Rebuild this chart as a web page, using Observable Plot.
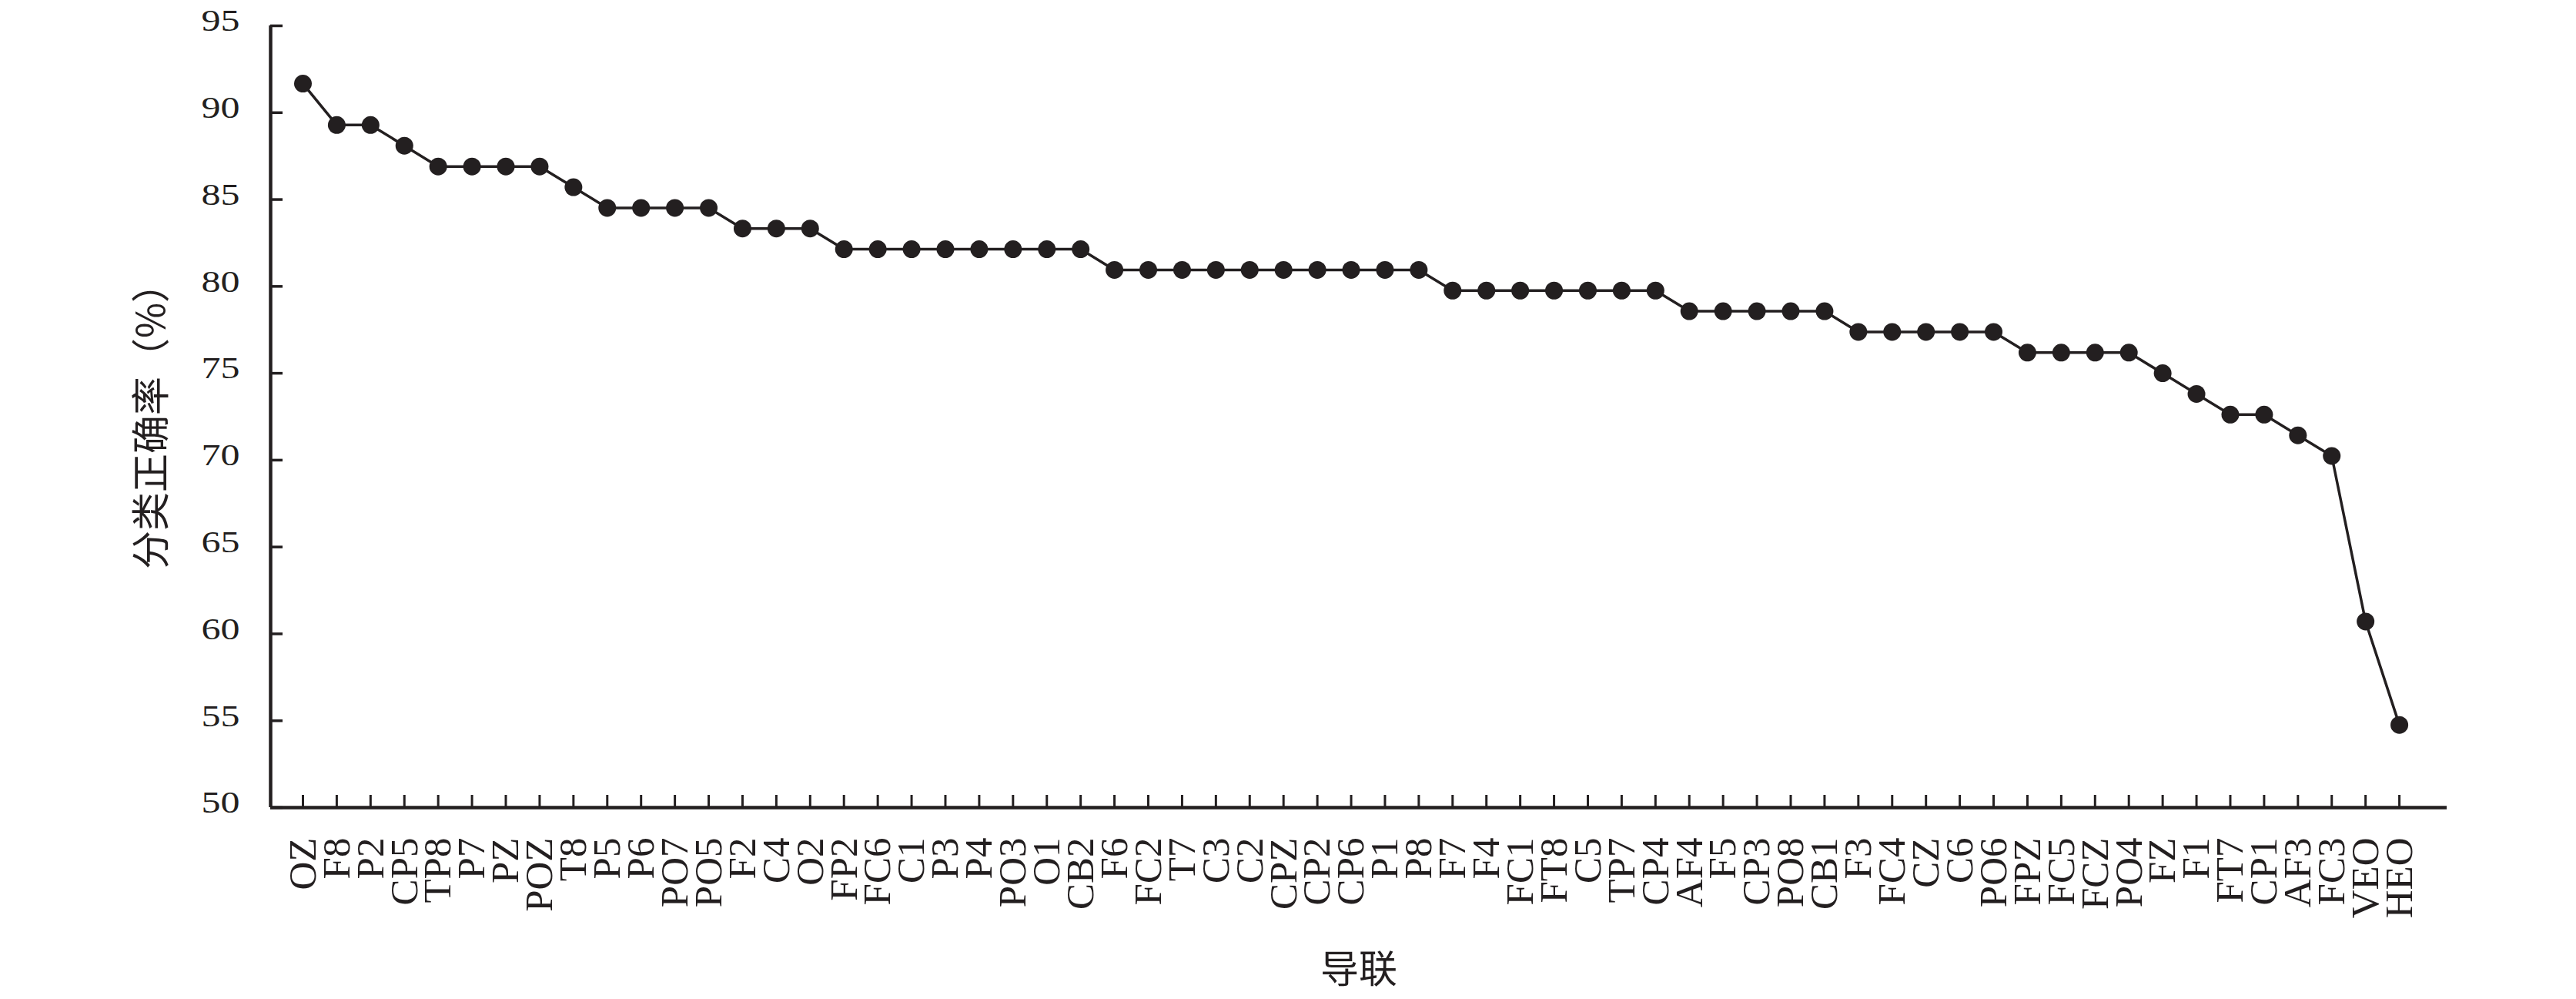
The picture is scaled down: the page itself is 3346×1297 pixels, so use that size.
<!DOCTYPE html>
<html><head><meta charset="utf-8">
<script src="https://cdn.jsdelivr.net/npm/d3@7"></script>
<script src="https://cdn.jsdelivr.net/npm/@observablehq/plot@0.6"></script>
<style>html,body{margin:0;padding:0;background:#fff;} svg{display:block;}</style>
</head><body><div id="chart"></div>
<script>
const leads = ["OZ","F8","P2","CP5","TP8","P7","PZ","POZ","T8","P5","P6","PO7","PO5","F2","C4","O2","FP2","FC6","C1","P3","P4","PO3","O1","CB2","F6","FC2","T7","C3","C2","CPZ","CP2","CP6","P1","P8","F7","F4","FC1","FT8","C5","TP7","CP4","AF4","F5","CP3","PO8","CB1","F3","FC4","CZ","C6","PO6","FPZ","FC5","FCZ","PO4","FZ","F1","FT7","CP1","AF3","FC3","VEO","HEO"];
const accuracy = [91.67,89.29,89.29,88.10,86.90,86.90,86.90,86.90,85.71,84.52,84.52,84.52,84.52,83.33,83.33,83.33,
  82.14,82.14,82.14,82.14,82.14,82.14,82.14,82.14,
  80.95,80.95,80.95,80.95,80.95,80.95,80.95,80.95,80.95,80.95,
  79.76,79.76,79.76,79.76,79.76,79.76,79.76,
  78.57,78.57,78.57,78.57,78.57,
  77.38,77.38,77.38,77.38,77.38,
  76.19,76.19,76.19,76.19,
  75.00,73.81,72.62,72.62,71.43,70.24,60.71,54.76];
const yTicks = [50,55,60,65,70,75,80,85,90,95];
const xTitle = ["导联"];
const yTitle = ["分类正确率（%）"];

const ink = "#231f20";
const serif = "'Liberation Serif','Times New Roman',serif";
const cjk = "'Noto Sans CJK SC','Noto Sans',sans-serif";
const data = leads.map((lead, i) => ({i, lead, acc: accuracy[i]}));
const xIdx = leads.map((_, i) => i);
const xDomain = [-0.956, 63.41];

const chart = Plot.plot({
  width: 3346, height: 1297,
  marginLeft: 351, marginRight: 168, marginTop: 33, marginBottom: 249,
  style: {background: "#fff", color: ink, fontFamily: serif},
  x: {type: "linear", domain: xDomain},
  y: {domain: [50, 95]},
  marks: [
    Plot.axisY({ticks: yTicks, tickSize: -16, tickPadding: 56, strokeWidth: 3.5, stroke: ink, fill: ink, fontSize: 40, tickFormat: d => String(d), label: null}),
    Plot.axisX({ticks: xIdx, tickFormat: i => leads[i], tickRotate: -90, tickSize: -16, tickPadding: 55, strokeWidth: 3, stroke: ink, fill: ink, fontSize: 51, label: null}),
    Plot.ruleY([50], {stroke: ink, strokeWidth: 4.5}),
    Plot.ruleX([xDomain[0]], {stroke: ink, strokeWidth: 4.5}),
    Plot.line(data, {x: "i", y: "acc", stroke: ink, strokeWidth: 3.5}),
    Plot.dot(data, {x: "i", y: "acc", r: 11.5, fill: ink, stroke: "none"}),
    Plot.text(yTitle, {frameAnchor: "left", dx: -154, rotate: -90, textAnchor: "middle", lineAnchor: "middle", fontSize: 50, fontFamily: cjk, fill: ink}),
    Plot.text(xTitle, {frameAnchor: "bottom", dy: 211, textAnchor: "middle", lineAnchor: "middle", fontSize: 50, fontFamily: cjk, fill: ink})
  ]
});
chart.querySelectorAll('[aria-label="y-axis tick label"] text').forEach(t => {
  t.setAttribute("transform", (t.getAttribute("transform") || "") + " translate(0,-6) scale(1.25,1)");
});
document.getElementById("chart").appendChild(chart);
</script>
</body></html>
